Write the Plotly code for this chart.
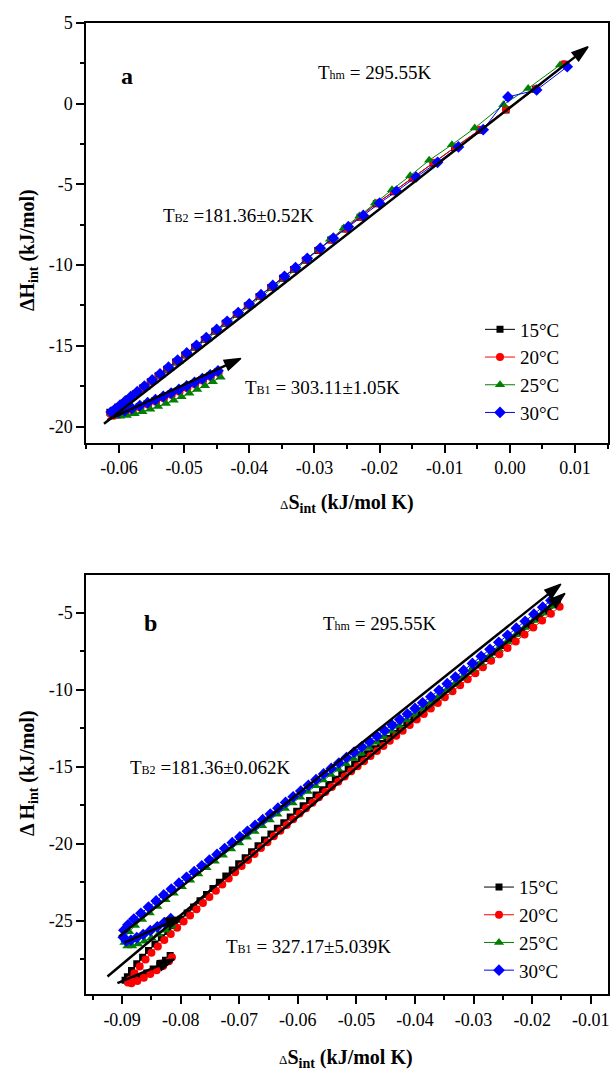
import plotly.graph_objects as go

FONT = "Liberation Serif"
W, H = 611, 1071

# ---------------- data: panel a ----------------
series_names = ["15°C", "20°C", "25°C", "30°C"]
series_colors = ["#000000", "#ff0000", "#008000", "#0000ff"]
series_symbols = ["square", "circle", "triangle-up", "diamond"]
series_sizes = [7, 8, 9, 9]

a15 = [(-0.0449, -16.62), (-0.0461, -16.87), (-0.0473, -17.11), (-0.0485, -17.34), (-0.0497, -17.56),
       (-0.0509, -17.78), (-0.0521, -17.99), (-0.0533, -18.20), (-0.0545, -18.40), (-0.0557, -18.59),
       (-0.0569, -18.77), (-0.0581, -18.94), (-0.0592, -19.09), (-0.0602, -19.20), (-0.0610, -19.26),
       (-0.0614, -19.12), (-0.0609, -19.02), (-0.0602, -18.80), (-0.0594, -18.55), (-0.0585, -18.27),
       (-0.0575, -17.96), (-0.0564, -17.61), (-0.0552, -17.23), (-0.0540, -16.85), (-0.0527, -16.45),
       (-0.0513, -16.00), (-0.0499, -15.56), (-0.0484, -15.09), (-0.0469, -14.61), (-0.0453, -14.10),
       (-0.0437, -13.60), (-0.0420, -13.06), (-0.0403, -12.52), (-0.0385, -11.95), (-0.0367, -11.38),
       (-0.0349, -10.81), (-0.0332, -10.27), (-0.0314, -9.70), (-0.0295, -9.09), (-0.0275, -8.45),
       (-0.0253, -7.76), (-0.0230, -7.03), (-0.0205, -6.19), (-0.0179, -5.45), (-0.0150, -4.60),
       (-0.0118, -3.68), (-0.0085, -2.72), (-0.0047, -1.64), (-0.0006, -0.39), (0.0039, 0.90), (0.0084, 2.45)]
a20 = [(-0.0447, -16.68), (-0.0459, -16.93), (-0.0471, -17.17), (-0.0483, -17.40), (-0.0495, -17.62),
       (-0.0507, -17.84), (-0.0519, -18.05), (-0.0531, -18.26), (-0.0543, -18.46), (-0.0555, -18.65),
       (-0.0567, -18.83), (-0.0579, -19.00), (-0.0590, -19.15), (-0.0600, -19.27), (-0.0608, -19.33),
       (-0.0613, -19.22), (-0.0608, -19.00), (-0.0601, -18.77), (-0.0593, -18.52), (-0.0584, -18.24),
       (-0.0574, -17.92), (-0.0563, -17.58), (-0.0551, -17.20), (-0.0539, -16.82), (-0.0526, -16.41),
       (-0.0512, -15.97), (-0.0498, -15.53), (-0.0483, -15.06), (-0.0468, -14.58), (-0.0452, -14.07),
       (-0.0436, -13.57), (-0.0419, -13.03), (-0.0402, -12.49), (-0.0384, -11.92), (-0.0366, -11.35),
       (-0.0348, -10.78), (-0.0331, -10.24), (-0.0313, -9.66), (-0.0294, -9.05), (-0.0274, -8.42),
       (-0.0252, -7.74), (-0.0229, -7.00), (-0.0204, -6.17), (-0.0178, -5.43), (-0.0149, -4.58),
       (-0.0117, -3.66), (-0.0084, -2.70), (-0.0046, -1.62), (-0.0006, -0.35), (0.0040, 0.92), (0.0083, 2.45)]
a25 = [(-0.0444, -16.95), (-0.0456, -17.22), (-0.0468, -17.47), (-0.0480, -17.71), (-0.0492, -17.94),
       (-0.0504, -18.16), (-0.0516, -18.37), (-0.0528, -18.57), (-0.0540, -18.76), (-0.0552, -18.93),
       (-0.0564, -19.08), (-0.0576, -19.21), (-0.0588, -19.31), (-0.0598, -19.36), (-0.0606, -19.32),
       (-0.0610, -19.18), (-0.0604, -18.97), (-0.0597, -18.75), (-0.0589, -18.50), (-0.0580, -18.22),
       (-0.0570, -17.90), (-0.0559, -17.56), (-0.0547, -17.18), (-0.0535, -16.80), (-0.0522, -16.39),
       (-0.0508, -15.95), (-0.0494, -15.51), (-0.0479, -15.04), (-0.0464, -14.57), (-0.0448, -14.07),
       (-0.0432, -13.56), (-0.0415, -13.03), (-0.0398, -12.50), (-0.0380, -11.93), (-0.0362, -11.37),
       (-0.0344, -10.80), (-0.0327, -10.22), (-0.0310, -9.60), (-0.0293, -9.00), (-0.0276, -8.40),
       (-0.0255, -7.70), (-0.0231, -6.95), (-0.0207, -6.15), (-0.0181, -5.33), (-0.0153, -4.46),
       (-0.0124, -3.51), (-0.0089, -2.54), (-0.0054, -1.51), (-0.0010, -0.06), (0.0028, 0.95), (0.0077, 2.40)]
a30 = [(-0.0448, -16.55), (-0.0460, -16.80), (-0.0472, -17.03), (-0.0484, -17.26), (-0.0496, -17.48),
       (-0.0508, -17.70), (-0.0520, -17.92), (-0.0532, -18.13), (-0.0544, -18.33), (-0.0556, -18.52),
       (-0.0568, -18.70), (-0.0580, -18.87), (-0.0591, -19.02), (-0.0601, -19.12), (-0.0609, -19.15),
       (-0.0612, -19.10), (-0.0606, -18.92), (-0.0599, -18.70), (-0.0591, -18.44), (-0.0582, -18.15),
       (-0.0572, -17.84), (-0.0561, -17.49), (-0.0549, -17.11), (-0.0537, -16.73), (-0.0524, -16.32),
       (-0.0510, -15.88), (-0.0496, -15.44), (-0.0481, -14.97), (-0.0466, -14.49), (-0.0450, -13.98),
       (-0.0434, -13.48), (-0.0417, -12.94), (-0.0400, -12.40), (-0.0382, -11.83), (-0.0364, -11.26),
       (-0.0346, -10.69), (-0.0329, -10.15), (-0.0311, -9.58), (-0.0291, -8.95), (-0.0271, -8.33),
       (-0.0248, -7.62), (-0.0225, -6.92), (-0.0200, -6.16), (-0.0174, -5.43), (-0.0144, -4.54),
       (-0.0111, -3.63), (-0.0079, -2.68), (-0.0041, -1.61), (-0.0003, 0.42), (0.0041, 0.85), (0.0088, 2.29)]

# fitted-line arrows (tail_x, tail_y, head_x, head_y)
arrows_a = [(-0.0623, -19.82, 0.0120, 3.53),
            (-0.0618, -19.60, -0.0413, -15.78)]

# ---------------- data: panel b ----------------
b15 = [(-0.0818, -27.25), (-0.0826, -27.55), (-0.0836, -27.85), (-0.0847, -28.12), (-0.0858, -28.37),
       (-0.0869, -28.60), (-0.0880, -28.80), (-0.0890, -28.92), (-0.0895, -28.85), (-0.0891, -28.62),
       (-0.0884, -28.22), (-0.0875, -27.78), (-0.0865, -27.35), (-0.0855, -26.92), (-0.0844, -26.50),
       (-0.0833, -26.09), (-0.0822, -25.69), (-0.0811, -25.29), (-0.0800, -24.89), (-0.0789, -24.49),
       (-0.0778, -24.09), (-0.0767, -23.69), (-0.0756, -23.29), (-0.0745, -22.89), (-0.0734, -22.49),
       (-0.0723, -22.09), (-0.0712, -21.69), (-0.0701, -21.29), (-0.0690, -20.90), (-0.0679, -20.51),
       (-0.0668, -20.12), (-0.0657, -19.74), (-0.0646, -19.36), (-0.0635, -18.99), (-0.0624, -18.62),
       (-0.0613, -18.25), (-0.0602, -17.88), (-0.0591, -17.53), (-0.0580, -17.18), (-0.0569, -16.83),
       (-0.0558, -16.49), (-0.0547, -16.15), (-0.0536, -15.81), (-0.0525, -15.47), (-0.0514, -15.14),
       (-0.0503, -14.81), (-0.0492, -14.48), (-0.0481, -14.15), (-0.0470, -13.82), (-0.0459, -13.49),
       (-0.0448, -13.16), (-0.0437, -12.83), (-0.0426, -12.50), (-0.0414, -12.14), (-0.0402, -11.78),
       (-0.0390, -11.42), (-0.0378, -11.06), (-0.0366, -10.70), (-0.0354, -10.34), (-0.0341, -9.95),
       (-0.0328, -9.56), (-0.0315, -9.17), (-0.0302, -8.78), (-0.0289, -8.39), (-0.0275, -7.97),
       (-0.0261, -7.55), (-0.0247, -7.13), (-0.0233, -6.71), (-0.0218, -6.26), (-0.0203, -5.81),
       (-0.0188, -5.36), (-0.0173, -4.91), (-0.0157, -4.46)]
b20 = [(-0.0815, -27.35), (-0.0820, -27.62), (-0.0830, -27.93), (-0.0841, -28.20), (-0.0852, -28.45),
       (-0.0863, -28.68), (-0.0874, -28.90), (-0.0884, -29.05), (-0.0890, -29.00), (-0.0886, -28.80),
       (-0.0879, -28.40), (-0.0870, -27.95), (-0.0860, -27.50), (-0.0850, -27.07), (-0.0839, -26.65),
       (-0.0828, -26.24), (-0.0817, -25.84), (-0.0806, -25.44), (-0.0795, -25.04), (-0.0784, -24.64),
       (-0.0773, -24.24), (-0.0762, -23.84), (-0.0751, -23.44), (-0.0740, -23.04), (-0.0729, -22.64),
       (-0.0718, -22.24), (-0.0707, -21.84), (-0.0696, -21.44), (-0.0685, -21.05), (-0.0674, -20.66),
       (-0.0663, -20.27), (-0.0652, -19.89), (-0.0641, -19.51), (-0.0630, -19.14), (-0.0619, -18.77),
       (-0.0608, -18.40), (-0.0597, -18.03), (-0.0586, -17.68), (-0.0575, -17.33), (-0.0564, -16.98),
       (-0.0553, -16.64), (-0.0542, -16.30), (-0.0531, -15.96), (-0.0520, -15.62), (-0.0509, -15.29),
       (-0.0498, -14.96), (-0.0487, -14.63), (-0.0476, -14.30), (-0.0465, -13.97), (-0.0454, -13.64),
       (-0.0443, -13.31), (-0.0432, -12.98), (-0.0421, -12.65), (-0.0409, -12.29), (-0.0397, -11.93),
       (-0.0385, -11.57), (-0.0373, -11.21), (-0.0361, -10.85), (-0.0349, -10.49), (-0.0336, -10.10),
       (-0.0323, -9.71), (-0.0310, -9.32), (-0.0297, -8.93), (-0.0284, -8.54), (-0.0270, -8.12),
       (-0.0256, -7.70), (-0.0242, -7.28), (-0.0228, -6.86), (-0.0213, -6.41), (-0.0198, -5.96),
       (-0.0183, -5.51), (-0.0168, -5.06), (-0.0153, -4.61)]
b25 = [(-0.0815, -25.35), (-0.0826, -25.60), (-0.0838, -25.86), (-0.0850, -26.10), (-0.0862, -26.32),
       (-0.0873, -26.50), (-0.0883, -26.62), (-0.0891, -26.62), (-0.0896, -26.40), (-0.0895, -26.05),
       (-0.0888, -25.70), (-0.0878, -25.30), (-0.0866, -24.90), (-0.0853, -24.48), (-0.0840, -24.06),
       (-0.0826, -23.63), (-0.0812, -23.20), (-0.0798, -22.78), (-0.0784, -22.36), (-0.0770, -21.95),
       (-0.0756, -21.54), (-0.0742, -21.13), (-0.0728, -20.73), (-0.0714, -20.33), (-0.0700, -19.94),
       (-0.0687, -19.57), (-0.0674, -19.20), (-0.0661, -18.83), (-0.0648, -18.45), (-0.0635, -18.08),
       (-0.0622, -17.71), (-0.0609, -17.34), (-0.0596, -16.97), (-0.0583, -16.60), (-0.0570, -16.23),
       (-0.0557, -15.86), (-0.0544, -15.50), (-0.0531, -15.15), (-0.0518, -14.80), (-0.0505, -14.45),
       (-0.0492, -14.10), (-0.0479, -13.75), (-0.0466, -13.40), (-0.0453, -13.04), (-0.0440, -12.68),
       (-0.0427, -12.32), (-0.0414, -11.96), (-0.0401, -11.60), (-0.0388, -11.24), (-0.0374, -10.85),
       (-0.0360, -10.44), (-0.0346, -10.02), (-0.0332, -9.60), (-0.0318, -9.17), (-0.0303, -8.72),
       (-0.0288, -8.26), (-0.0273, -7.80), (-0.0258, -7.34), (-0.0243, -6.88), (-0.0228, -6.42),
       (-0.0213, -5.96), (-0.0198, -5.50), (-0.0183, -5.04), (-0.0168, -4.58)]
b30 = [(-0.0817, -24.85), (-0.0828, -25.10), (-0.0840, -25.38), (-0.0852, -25.63), (-0.0864, -25.88),
       (-0.0875, -26.08), (-0.0885, -26.24), (-0.0893, -26.30), (-0.0898, -26.05), (-0.0897, -25.60),
       (-0.0890, -25.25), (-0.0880, -24.88), (-0.0868, -24.50), (-0.0855, -24.10), (-0.0842, -23.70),
       (-0.0829, -23.31), (-0.0816, -22.93), (-0.0803, -22.55), (-0.0790, -22.17), (-0.0777, -21.80),
       (-0.0764, -21.42), (-0.0751, -21.05), (-0.0738, -20.68), (-0.0725, -20.30), (-0.0712, -19.92),
       (-0.0699, -19.55), (-0.0686, -19.18), (-0.0673, -18.80), (-0.0660, -18.43), (-0.0647, -18.06),
       (-0.0634, -17.68), (-0.0621, -17.31), (-0.0608, -16.94), (-0.0595, -16.57), (-0.0582, -16.20),
       (-0.0569, -15.83), (-0.0556, -15.46), (-0.0543, -15.10), (-0.0530, -14.75), (-0.0517, -14.40),
       (-0.0504, -14.05), (-0.0491, -13.70), (-0.0478, -13.35), (-0.0465, -13.00), (-0.0452, -12.64),
       (-0.0439, -12.29), (-0.0426, -11.93), (-0.0413, -11.57), (-0.0400, -11.21), (-0.0387, -10.84),
       (-0.0373, -10.45), (-0.0359, -10.03), (-0.0345, -9.60), (-0.0331, -9.17), (-0.0317, -8.74),
       (-0.0302, -8.29), (-0.0287, -7.83), (-0.0272, -7.37), (-0.0257, -6.92), (-0.0242, -6.46),
       (-0.0227, -6.00), (-0.0212, -5.55), (-0.0197, -5.09), (-0.0182, -4.64), (-0.0168, -4.20)]

arrows_b = [(-0.0905, -26.00, -0.0151, -3.14),
            (-0.0925, -28.60, -0.0144, -3.74),
            (-0.0896, -26.40, -0.0797, -24.72),
            (-0.0908, -29.04, -0.0811, -27.48)]

# ---------------- ticks ----------------
a_x_ticks = [-0.06, -0.05, -0.04, -0.03, -0.02, -0.01, 0.00, 0.01]
a_x_text = ["-0.06", "-0.05", "-0.04", "-0.03", "-0.02", "-0.01", "0.00", "0.01"]
a_x_minor = [-0.065, -0.055, -0.045, -0.035, -0.025, -0.015, -0.005, 0.005, 0.015]
a_x_top = [-0.0570, -0.0490, -0.0411, -0.0331, -0.0251, -0.0171, -0.0090, -0.0010, 0.0070]
a_y_ticks = [5, 0, -5, -10, -15, -20]
a_y_text = ["5", "0", "-5", "-10", "-15", "-20"]
a_y_minor = [2.5, -2.5, -7.5, -12.5, -17.5]
a_y_right = [5, 2.5, 0, -2.5, -5, -7.5, -10, -12.5, -15, -17.5, -20]

b_x_ticks = [-0.09, -0.08, -0.07, -0.06, -0.05, -0.04, -0.03, -0.02, -0.01]
b_x_text = ["-0.09", "-0.08", "-0.07", "-0.06", "-0.05", "-0.04", "-0.03", "-0.02", "-0.01"]
b_x_minor = [-0.095, -0.085, -0.075, -0.065, -0.055, -0.045, -0.035, -0.025, -0.015]
b_y_ticks = [-5, -10, -15, -20, -25]
b_y_text = ["-5", "-10", "-15", "-20", "-25"]
b_y_minor = [-7.5, -12.5, -17.5, -22.5, -27.5]
b_y_right = [-5, -7.5, -10, -12.5, -15, -17.5, -20, -22.5, -25, -27.5]

# ---------------- figure ----------------
def px(v):
    return v / W

def py(v):
    return 1 - v / H

fig = go.Figure()

for name, col, sym, sz, pts in zip(series_names, series_colors, series_symbols, series_sizes,
                                   [a15, a20, a25, a30]):
    fig.add_trace(go.Scatter(
        x=[p[0] for p in pts], y=[p[1] for p in pts], mode="lines+markers", name=name,
        line=dict(color=col, width=1), marker=dict(symbol=sym, size=sz, color=col),
        xaxis="x", yaxis="y", legend="legend"))

for name, col, sym, sz, pts in zip(series_names, series_colors, series_symbols, series_sizes,
                                   [b15, b20, b25, b30]):
    fig.add_trace(go.Scatter(
        x=[p[0] for p in pts], y=[p[1] for p in pts], mode="lines+markers", name=name,
        line=dict(color=col, width=1), marker=dict(symbol=sym, size=sz, color=col),
        xaxis="x2", yaxis="y2", legend="legend2"))

# fitted lines with arrow heads
for arrows, xa, ya in [(arrows_a, "x", "y"), (arrows_b, "x2", "y2")]:
    for (tx, ty, hx, hy) in arrows:
        fig.add_trace(go.Scatter(
            x=[tx, hx], y=[ty, hy], mode="lines+markers",
            line=dict(color="black", width=2.5),
            marker=dict(symbol="arrow", size=[0, 17], angleref="previous", color="#000000",
                        opacity=1, line=dict(width=1.5, color="#000000")),
            opacity=1, xaxis=xa, yaxis=ya, showlegend=False, hoverinfo="skip"))

tickfont = dict(family=FONT, size=18, color="black")
xdom = [px(86.4), px(608.3)]
ydom_a = [py(442.7), py(23)]
ydom_b = [py(994.3), py(575)]

def main_axis(rng, dom, anchor, vals, text, minor, ticklen=8):
    return dict(domain=dom, anchor=anchor, range=rng, tickmode="array", tickvals=vals,
                ticktext=text, ticks="outside", ticklen=ticklen, tickwidth=1.5, tickcolor="black",
                showline=True, linewidth=2, linecolor="black", mirror=True, automargin=False,
                showgrid=False, zeroline=False, tickfont=tickfont,
                minor=dict(tickmode="array", tickvals=minor, ticks="outside", ticklen=4,
                           tickwidth=1.5, tickcolor="black", showgrid=False))

def overlay_axis(over, side, anchor, rng, vals, ticklen=6):
    return dict(overlaying=over, side=side, anchor=anchor, range=rng, tickmode="array",
                tickvals=vals, ticks="inside", ticklen=ticklen, tickwidth=1.5,
                tickcolor="black", showticklabels=False, showline=False, showgrid=False,
                zeroline=False, automargin=False)

a_xr = [-0.065, 0.0151]
a_yr = [-21.0, 5.0]
b_xr = [-0.0961, -0.0070]
b_yr = [-29.76, -2.55]

xb4 = overlay_axis("x2", "top", "y2", b_xr, b_x_ticks)
xb4["minor"] = dict(tickmode="array", tickvals=b_x_minor, ticks="inside", ticklen=3,
                    tickwidth=1.5, tickcolor="black", showgrid=False)

fig.update_layout(
    width=W, height=H, margin=dict(l=0, r=0, t=0, b=0, autoexpand=False),
    paper_bgcolor="white", plot_bgcolor="white",
    font=dict(family=FONT, color="black"),
    xaxis=main_axis(a_xr, xdom, "y", a_x_ticks, a_x_text, a_x_minor),
    yaxis=main_axis(a_yr, ydom_a, "x", a_y_ticks, a_y_text, a_y_minor),
    xaxis2=main_axis(b_xr, xdom, "y2", b_x_ticks, b_x_text, b_x_minor),
    yaxis2=main_axis(b_yr, ydom_b, "x2", b_y_ticks, b_y_text, b_y_minor),
    xaxis3=overlay_axis("x", "top", "y", a_xr, a_x_top),
    yaxis3=overlay_axis("y", "right", "x", a_yr, a_y_right),
    xaxis4=xb4,
    yaxis4=overlay_axis("y2", "right", "x2", b_yr, b_y_right),
    legend=dict(x=px(480), y=py(371), xanchor="left", yanchor="middle",
                bgcolor="rgba(0,0,0,0)", font=dict(family=FONT, size=19, color="black"),
                itemwidth=30, tracegroupgap=0),
    legend2=dict(x=px(479), y=py(928.7), xanchor="left", yanchor="middle",
                 bgcolor="rgba(0,0,0,0)", font=dict(family=FONT, size=19, color="black"),
                 itemwidth=30, tracegroupgap=0),
    showlegend=True,
)

ann = []

def txt(x, y, s, size=19, angle=0):
    ann.append(dict(x=px(x), y=py(y), xref="paper", yref="paper", text=s, showarrow=False,
                    xanchor="center", yanchor="middle", textangle=angle,
                    font=dict(family=FONT, size=size, color="black")))

small = '<span style="font-size:12px">%s</span>'
txt(127, 76, "<b>a</b>", size=24)
txt(374.5, 73, "T" + small % "hm" + " = 295.55K")
txt(238.5, 216, "T" + small % "B2" + " =181.36±0.52K")
txt(322, 387, "T" + small % "B1" + " = 303.11±1.05K")
txt(150, 623, "<b>b</b>", size=24)
txt(379.7, 623, "T" + small % "hm" + " = 295.55K")
txt(210, 767, "T" + small % "B2" + " =181.36±0.062K")
txt(308.6, 946, "T" + small % "B1" + " = 327.17±5.039K")

# axis titles
txt(346.5, 503, '<span style="font-size:13px">Δ</span><b>S<sub>int</sub> (kJ/mol K)</b>', size=20)
txt(345.6, 1058, '<span style="font-size:13px">Δ</span><b>S<sub>int</sub> (kJ/mol K)</b>', size=20)
txt(28, 250, "<b>ΔH<sub>int</sub> (kJ/mol)</b>", size=20, angle=-90)
txt(28, 773, "<b>Δ H<sub>int</sub> (kJ/mol)</b>", size=20, angle=-90)

fig.update_layout(annotations=ann)
fig.write_html("out.html", config={"displayModeBar": False},
               post_script="document.body.style.margin='0px';document.body.style.overflow='hidden';")
